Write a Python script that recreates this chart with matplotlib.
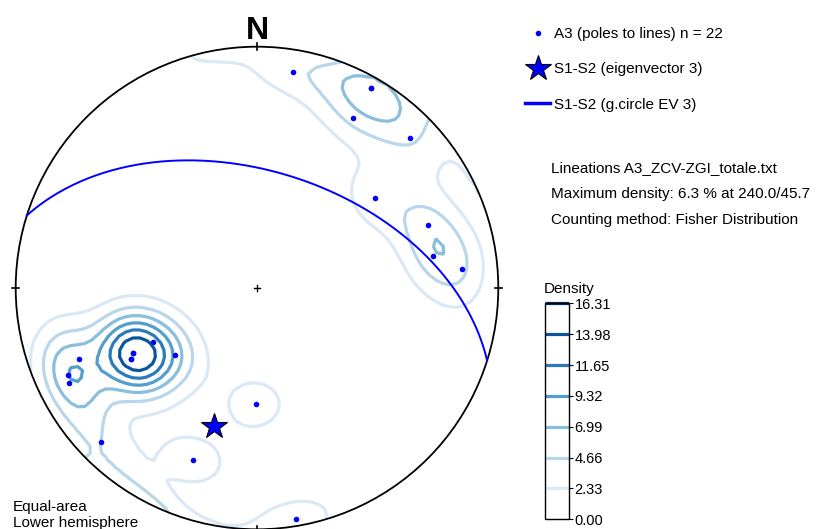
import numpy as np
import matplotlib
matplotlib.use("Agg")
import matplotlib.pyplot as plt
from matplotlib.patches import Circle
from matplotlib.lines import Line2D

plt.rcParams['font.family'] = ['Liberation Sans', 'DejaVu Sans']

# A3 lineations (trend, plunge in degrees), n = 22
trend = [9.5, 29.6, 29.5, 45.6, 52.6, 69.7, 79.7, 84.8,
         242.6, 242.4, 240.5, 230.6, 248.3, 245.3, 243.2,
         180.6, 225.4, 200.5, 170.3, 242.4, 240.5, 29.6]
plunge = [10.0, 5.2, 20.1, 12.3, 38.4, 25.6, 26.6, 15.8,
          49.7, 41.7, 39.8, 53.8, 21.7, 14.7, 13.7,
          50.1, 9.9, 25.0, 3.4, 41.7, 39.8, 5.2]

# eigenvector 3 of S1-S2 (trend, plunge)
ev3_trend = 197.5
ev3_plunge = 40.0

levels = [0.00, 2.33, 4.66, 6.99, 9.32, 11.65, 13.98, 16.31]
kappa = 40.0


def project(tr, pl):
    # equal-area (Schmidt), lower hemisphere
    tr = np.radians(tr)
    pl = np.radians(pl)
    r = np.sqrt(2) * np.sin((np.pi / 2 - pl) / 2)
    return r * np.sin(tr), r * np.cos(tr)


def vec(tr, pl):
    tr = np.radians(np.asarray(tr, float))
    pl = np.radians(np.asarray(pl, float))
    return np.stack([np.cos(pl) * np.sin(tr), np.cos(pl) * np.cos(tr), np.sin(pl)], -1)


# density grid (Fisher smoothing, axial)
gx, gy = np.meshgrid(np.linspace(-1, 1, 71), np.linspace(-1, 1, 71))
gr = np.clip(np.hypot(gx, gy), 1e-9, None)
rc = np.minimum(gr, 1.0)
th = 2 * np.arcsin(rc / np.sqrt(2))
gv = np.stack([np.sin(th) * gx / gr, np.sin(th) * gy / gr, np.cos(th)], -1)
pv = vec(trend, plunge)
dens = np.zeros(gx.shape)
for p in pv:
    dens += np.exp(kappa * (np.abs(gv @ p) - 1))
dens *= levels[-1] / dens.max()

# great circle of EV3
p = vec(ev3_trend, ev3_plunge)
s = np.array([np.sin(np.radians(ev3_trend + 90)), np.cos(np.radians(ev3_trend + 90)), 0.0])
d = np.cross(p, s)
d /= np.linalg.norm(d)
if d[2] < 0:
    d = -d
t = np.linspace(0, np.pi, 200)
gc = np.outer(np.cos(t), s) + np.outer(np.sin(t), d)
gc_tr = np.degrees(np.arctan2(gc[:, 0], gc[:, 1]))
gc_pl = np.degrees(np.arcsin(np.clip(gc[:, 2], -1, 1)))

fig = plt.figure(figsize=(8.24, 5.29), dpi=100)
W, H = 824, 529
cx, cy, R = 257, 288, 241.3
ax = fig.add_axes([(cx - R) / W, (H - cy - R) / H, 2 * R / W, 2 * R / H])
ax.set_xlim(-1, 1)
ax.set_ylim(-1, 1)
ax.axis('off')

prim = Circle((0, 0), 1, fill=False, ec='black', lw=1.3, zorder=5, clip_on=False)
ax.add_patch(prim)
cs = ax.contour(gx, gy, dens, levels=levels, cmap='Blues', vmin=0, vmax=levels[-1],
                linewidths=2.3)
cs.set_clip_path(prim)

# ticks on primitive and centre cross
for a in (0, 90, 180, 270):
    ca, sa = np.cos(np.radians(a)), np.sin(np.radians(a))
    ax.plot([0.985 * sa, 1.015 * sa], [0.985 * ca, 1.015 * ca], color='black', lw=1.2,
            clip_on=False, zorder=6)
ax.plot([-0.013, 0.013], [0, 0], color='black', lw=1)
ax.plot([0, 0], [-0.013, 0.013], color='black', lw=1)

px, py = project(trend, plunge)
pts, = ax.plot(px, py, 'o', color='#0000ff', ms=4, mec='none', zorder=7)
sx, sy = project(ev3_trend, ev3_plunge)
star, = ax.plot(sx, sy, '*', color='#0000ff', ms=19, mec='black', mew=0.8, zorder=8)
gx2, gy2 = project(gc_tr, gc_pl)
ax.plot(gx2, gy2, color='#0000ff', lw=1.4, zorder=6)
gc_handle = Line2D([], [], color='#0000ff', lw=2.5)

ax.text(0, 1.031, 'N', ha='center', va='baseline', fontsize=23, fontweight='bold')

fig.legend([pts, star, gc_handle],
           ['A3 (poles to lines) n = %d' % len(trend), 'S1-S2 (eigenvector 3)',
            'S1-S2 (g.circle EV 3)'],
           loc='upper left', bbox_to_anchor=(525 / W, 1 - 27 / H), frameon=False,
           fontsize=11, borderaxespad=0, borderpad=0, handlelength=1.65,
           handletextpad=0.25, labelspacing=1.4)

fig.text(551 / W, 1 - 171.7 / H, 'Lineations A3_ZCV-ZGI_totale.txt', fontsize=11, va='baseline')
fig.text(551 / W, 1 - 197.7 / H, 'Maximum density: 6.3 % at 240.0/45.7', fontsize=11, va='baseline')
fig.text(551 / W, 1 - 224.3 / H, 'Counting method: Fisher Distribution', fontsize=11, va='baseline')
fig.text(13 / W, 1 - 510.7 / H, 'Equal-area', fontsize=11, va='baseline')
fig.text(13 / W, 1 - 527.5 / H, 'Lower hemisphere', fontsize=11, va='baseline')

cax = fig.add_axes([545.3 / W, (H - 519.3) / H, 23.7 / W, 216 / H])
cb = fig.colorbar(cs, cax=cax)
cb.set_ticks(levels)
cb.set_ticklabels(['%.2f' % v for v in levels])
cb.ax.tick_params(labelsize=10.5, length=3, pad=1)
cb.outline.set_linewidth(1)
fig.text(544 / W, 1 - 292.7 / H, 'Density', fontsize=11, va='baseline')

fig.savefig('out.png', dpi=100)
